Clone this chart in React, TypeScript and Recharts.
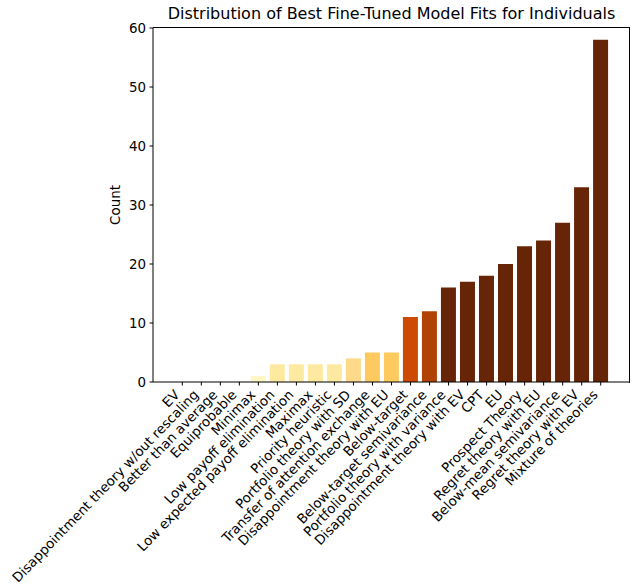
import React from 'react';
import { BarChart, Bar, XAxis, YAxis, Cell } from 'recharts';

const categories = [
  'EV',
  'Disappointment theory w/out rescaling',
  'Better than average',
  'Equiprobable',
  'Minimax',
  'Low payoff elimination',
  'Low expected payoff elimination',
  'Maximax',
  'Priority heuristic',
  'Portfolio theory with SD',
  'Transfer of attention exchange',
  'Disappointment theory with EU',
  'Below-target',
  'Below-target semivariance',
  'Portfolio theory with variance',
  'Disappointment theory with EV',
  'CPT',
  'EU',
  'Prospect Theory',
  'Regret theory with EU',
  'Below-mean semivariance',
  'Regret theory with EV',
  'Mixture of theories',
];

const counts = [0, 0, 0, 0, 1, 3, 3, 3, 3, 4, 5, 5, 11, 12, 16, 17, 18, 20, 23, 24, 27, 33, 58];

const barColors = [
  '#ffffe5', '#ffffe5', '#ffffe5', '#ffffe5', '#fff7c4', '#fee9a0', '#fee9a0', '#fee9a0',
  '#fee9a0', '#fed98a', '#fec95e', '#fec95e', '#cc4a02', '#b04204', '#662506', '#662506',
  '#662506', '#662506', '#662506', '#662506', '#662506', '#662506', '#662506',
];

const yTicks = [0, 10, 20, 30, 40, 50, 60];

const data = categories.map((name, i) => ({ name, count: counts[i] }));

const FONT = 'DejaVu Sans, sans-serif';

const RotatedTick = (props: any) => {
  const { x, y, payload } = props;
  const ax = x - 2;
  const ay = y + 10;
  return (
    <text
      x={ax}
      y={ay}
      transform={`rotate(-46 ${ax} ${ay})`}
      textAnchor="end"
      fontSize={13.4}
      fontFamily={FONT}
      fill="#000"
    >
      {payload.value}
    </text>
  );
};

export default function App() {
  return (
    <div style={{ position: 'absolute', left: 0, top: 0, width: 632, height: 584, background: '#fff' }}>
      <div
        style={{
          position: 'absolute',
          left: 153,
          width: 477,
          top: 4,
          textAlign: 'center',
          fontFamily: FONT,
          fontSize: 16,
          color: '#000',
          lineHeight: '20px',
        }}
      >
        Distribution of Best Fine-Tuned Model Fits for Individuals
      </div>
      <div
        style={{
          position: 'absolute',
          left: 115,
          top: 205,
          transform: 'translate(-50%, -50%) rotate(-90deg)',
          fontFamily: FONT,
          fontSize: 13.4,
          color: '#000',
          whiteSpace: 'nowrap',
        }}
      >
        Count
      </div>
      <BarChart
        width={632}
        height={584}
        data={data}
        margin={{ top: 28, right: 2, left: 0, bottom: 0 }}
        barCategoryGap="10%"
      >
        <XAxis
          dataKey="name"
          interval={0}
          height={202}
          padding={{ left: 19.8, right: 19.8 }}
          tick={<RotatedTick />}
          tickSize={3.5}
          tickMargin={0}
          axisLine={{ stroke: '#000' }}
          tickLine={{ stroke: '#000' }}
        />
        <YAxis
          domain={[0, 60]}
          ticks={yTicks}
          width={153}
          tickSize={3.5}
          tickMargin={3.5}
          tick={{ fontSize: 13.4, fontFamily: FONT, fill: '#000' }}
          axisLine={{ stroke: '#000' }}
          tickLine={{ stroke: '#000' }}
        />
        <Bar dataKey="count" isAnimationActive={false}>
          {data.map((d, i) => (
            <Cell key={d.name} fill={barColors[i]} />
          ))}
        </Bar>
      </BarChart>
      {/* top and right spines */}
      <div
        style={{
          position: 'absolute',
          left: 153,
          top: 27,
          width: 476,
          height: 355,
          borderTop: '1px solid #000',
          borderRight: '1px solid #000',
          pointerEvents: 'none',
        }}
      />
    </div>
  );
}
